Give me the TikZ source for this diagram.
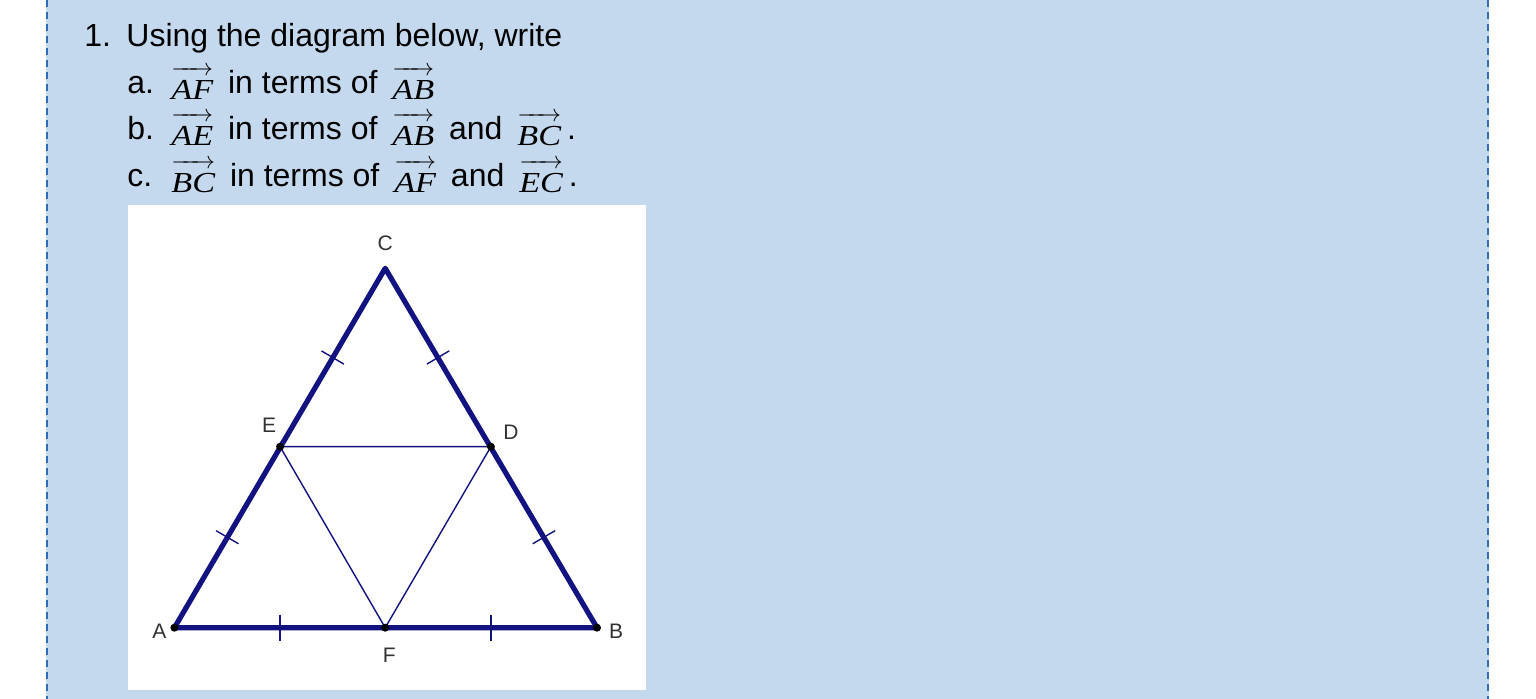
\documentclass[tikz,border=0pt]{standalone}
\usepackage{amsmath}
\usepackage{graphicx}
\usepackage{fontspec}
\setmainfont{Liberation Sans}
\newfontfamily\vecfont{Liberation Serif}
\usetikzlibrary{calc}

\definecolor{panelblue}{RGB}{197,217,238}
\definecolor{borderblue}{RGB}{46,110,182}
\definecolor{navy}{RGB}{18,18,128}
\definecolor{labelgray}{RGB}{50,50,50}

\begin{document}
\begin{tikzpicture}[x=0.5pt,y=-0.5pt]
    \tikzstyle{line} = [
      anchor=base west,
      inner sep=0,
      font=\fontsize{16}{19}\selectfont,
    ]
    \tikzstyle{side} = [
      line width=2.6pt,
      draw=navy,
      line join=round,
    ]
    \tikzstyle{inner} = [
      line width=0.7pt,
      draw=navy,
    ]
    \tikzstyle{tick} = [
      line width=0.7pt,
      draw=navy,
    ]
    \tikzstyle{vertex} = [
      circle,
      fill=black,
      inner sep=0,
      minimum size=4pt,
    ]
    \tikzstyle{lbl} = [
      inner sep=0,
      text=labelgray,
      font=\fontsize{10.5}{12}\selectfont,
    ]
    \tikzstyle{border} = [
      draw=borderblue,
      line width=1pt,
      dash pattern=on 3.5pt off 2.5pt,
    ]

    \newcommand{\vect}[1]{\hspace{3pt}{\fontsize{12}{14}\selectfont\raisebox{-3pt}{$\overrightarrow{\raisebox{0pt}[12pt][0pt]{\scalebox{1.18}[1]{\fontsize{14.5}{17}\selectfont\vecfont\itshape #1}}}$}}\hspace{3pt}}
    \newcommand{\tickmark}[2]{\coordinate (mid) at ($(#1)!0.5!(#2)$); \draw[tick] ($(mid)!6.5pt!90:(#2)$) -- ($(mid)!6.5pt!-90:(#2)$);}

    \useasboundingbox (0,0) rectangle (1536,699);

    % panel
    \fill[panelblue] (46,0) rectangle (1489,699);
    \draw[border] (47,0) -- (47,699);
    \draw[border] (1488,0) -- (1488,699);
    \fill[white] (128,205) rectangle (646,690);

    % question
    \node[line] (num) at (84,46.7) {1.};
    \node[line] (intro) at (126,46.7) {Using the diagram below, write};
    \node[line] (pa) at (127,93.3) {a.};
    \node[line] (qa) at (165,93.3) {\vect{AF} in terms of \vect{AB}};
    \node[line] (pb) at (127,140) {b.};
    \node[line] (qb) at (165,140) {\vect{AE} in terms of \vect{AB} and \vect{BC}.};
    \node[line] (pc) at (127,186.7) {c.};
    \node[line] (qc) at (165,186.7) {\vect{BC} in terms of \vect{AF} and \vect{EC}.};

    % triangle
    \coordinate (A) at (174.4,627.7);
    \coordinate (B) at (597,627.7);
    \coordinate (C) at (385.2,268.3);
    \coordinate (D) at (490.9,446.7);
    \coordinate (E) at (280.1,446.7);
    \coordinate (F) at (385.2,627.7);

    \draw[side] (A) -- (B) -- (C) -- cycle;
    \draw[inner] (E) -- (D) -- (F) -- cycle;

    \tickmark{A}{F}
    \tickmark{F}{B}
    \tickmark{A}{E}
    \tickmark{E}{C}
    \tickmark{C}{D}
    \tickmark{D}{B}

    \node[vertex] (dotA) at (A) {};
    \node[vertex] (dotB) at (B) {};
    \node[vertex] (dotD) at (D) {};
    \node[vertex] (dotE) at (E) {};
    \node[vertex] (dotF) at (F) {};

    \node[lbl] (labA) at ($(A)+(-15,4)$) {A};
    \node[lbl] (labB) at ($(B)+(19,4)$) {B};
    \node[lbl] (labC) at ($(C)+(0,-25)$) {C};
    \node[lbl] (labD) at ($(D)+(20,-14)$) {D};
    \node[lbl] (labE) at ($(E)+(-11,-21)$) {E};
    \node[lbl] (labF) at ($(F)+(4,28)$) {F};
\end{tikzpicture}
\end{document}
